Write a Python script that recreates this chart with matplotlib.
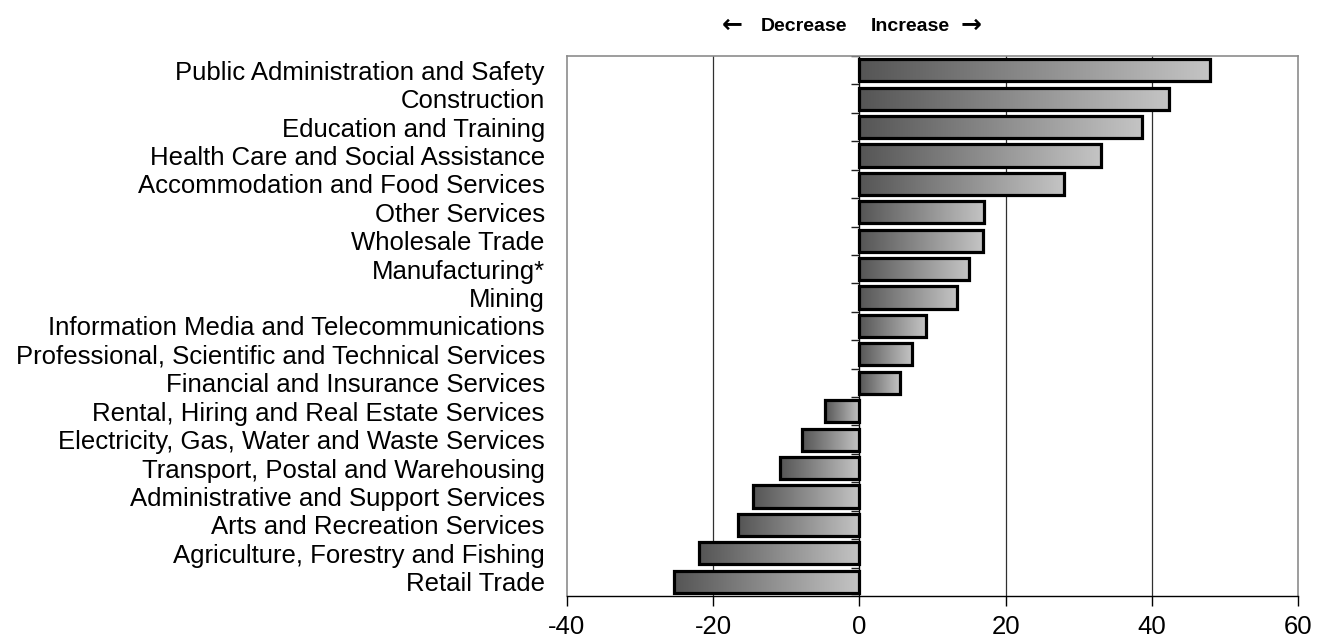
import numpy as np
import matplotlib.pyplot as plt
import matplotlib as mpl

mpl.rcParams['font.family'] = ['Liberation Sans', 'DejaVu Sans']

# Industries, bottom to top
industries = [
    "Retail Trade",
    "Agriculture, Forestry and Fishing",
    "Arts and Recreation Services",
    "Administrative and Support Services",
    "Transport, Postal and Warehousing",
    "Electricity, Gas, Water and Waste Services",
    "Rental, Hiring and Real Estate Services",
    "Financial and Insurance Services",
    "Professional, Scientific and Technical Services",
    "Information Media and Telecommunications",
    "Mining",
    "Manufacturing*",
    "Wholesale Trade",
    "Other Services",
    "Accommodation and Food Services",
    "Health Care and Social Assistance",
    "Education and Training",
    "Construction",
    "Public Administration and Safety",
]
change = [-25.3, -22.0, -16.6, -14.5, -10.8, -7.8, -4.7,
          5.6, 7.2, 9.1, 13.4, 15.0, 16.9, 17.1,
          28.0, 33.1, 38.7, 42.3, 48.0]
x_ticks = [-40, -20, 0, 20, 40, 60]

fig = plt.figure(figsize=(13.21, 6.42), dpi=100)
ax = fig.add_axes([0.4292, 0.0717, 0.5534, 0.8411])

y = np.arange(len(industries))
h = 0.78
grad = np.linspace(0, 1, 256).reshape(1, -1)
cmap = mpl.colors.LinearSegmentedColormap.from_list('bar', ['#555555', '#c4c4c4'])

for yi, v in zip(y, change):
    left, right = min(0, v), max(0, v)
    ax.imshow(grad, cmap=cmap, aspect='auto', interpolation='bicubic',
              extent=[left, right, yi - h / 2, yi + h / 2], zorder=2)
bars = ax.barh(y, change, height=h, facecolor='none', edgecolor='black',
               linewidth=2.3, zorder=3)

ax.set_xlim(-40, 60)
ax.set_ylim(-0.5, len(industries) - 0.5)

# gridlines
for gx in [-20, 20, 40]:
    ax.axvline(gx, color='#303030', linewidth=0.9, zorder=1)
ax.axvline(0, color='black', linewidth=1.0, zorder=1)
# category ticks on the zero axis
ax.hlines(np.arange(len(industries) + 1) - 0.5, -1.1, 0, color='#202020',
          linewidth=1.0, zorder=1)

ax.set_xticks(x_ticks)
ax.set_xticklabels([str(t) for t in x_ticks], fontsize=18.5)
ax.tick_params(axis='x', length=7, width=1, color='black', pad=7)
ax.set_yticks(y)
ax.set_yticklabels(industries, fontsize=18.5)
ax.tick_params(axis='y', length=0, pad=16)

for s in ['left', 'top', 'right']:
    ax.spines[s].set_color('#8c8c8c')
    ax.spines[s].set_linewidth(1.2)
ax.spines['bottom'].set_color('black')
ax.spines['bottom'].set_linewidth(1.0)

# direction header
tr = ax.get_xaxis_transform()
ax.text(-1.6, 1.055, "Decrease", transform=tr, ha='right', va='center',
        fontsize=14, fontweight='bold')
ax.text(-17.4, 1.057, u"\u2190", transform=tr, ha='center', va='center',
        fontsize=18, fontweight='bold', family='DejaVu Sans')
ax.text(1.5, 1.055, "Increase", transform=tr, ha='left', va='center',
        fontsize=14, fontweight='bold')
ax.text(15.3, 1.057, u"\u2192", transform=tr, ha='center', va='center',
        fontsize=18, fontweight='bold', family='DejaVu Sans')

plt.savefig('out.png', dpi=100)
